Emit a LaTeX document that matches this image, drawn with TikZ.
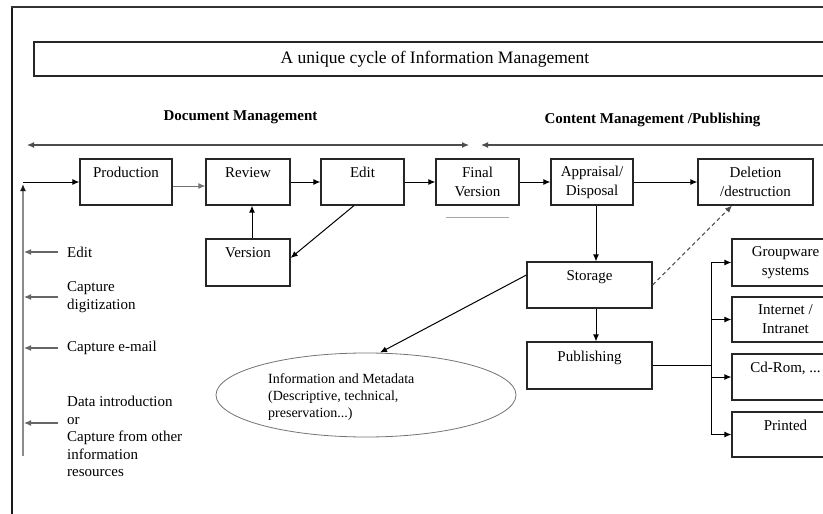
\documentclass[tikz,border=0pt]{standalone}
\usepackage{fontspec}
\setmainfont{Liberation Serif}
\usetikzlibrary{arrows.meta,shapes.geometric}
\begin{document}
\begin{tikzpicture}[x=1pt,y=-1pt,
  box/.style={draw=black!85,line width=1.2pt,minimum height=46pt,inner sep=0pt,align=center,font=\fontsize{15}{19}\selectfont},
  arr/.style={-{Latex[length=7pt,width=6pt]},line width=1pt},
  lbl/.style={font=\fontsize{15}{18}\selectfont,align=left,inner sep=0pt},
  hdr/.style={font=\bfseries\fontsize{15}{18}\selectfont,inner sep=0pt},
  larr/.style={arr,draw=black!60,line width=1.1pt},
]
\clip (0,0) rectangle (823,514);
% frame
\draw[line width=2.5pt,black!90] (12,530) -- (12,6);
\draw[line width=1.3pt,black!80] (11,7) -- (840,7);
% title
\node[draw=black!85,line width=1.2pt,minimum width=796pt,minimum height=34pt,inner sep=0pt] (titlebox) at (432,59) {};
\node[font=\fontsize{17.5}{20}\selectfont,inner sep=0pt] (title) at (435,59) {A unique cycle of Information Management};
% headers
\node[hdr] (dm) at (240.5,117) {Document Management};
\node[hdr] (cm) at (652.5,120) {Content Management /Publishing};
% top arrows
\coordinate (t1) at (27,145);
\coordinate (t2) at (469,145);
\coordinate (t3) at (481,145);
\coordinate (t4) at (840,145);
\draw[line width=1.2pt,black!70,{Latex[length=7pt,width=6pt]}-{Latex[length=7pt,width=6pt]}] (t1) -- (t2);
\draw[arr,line width=1.2pt,black!70] (t4) -- (t3);
% boxes
\node[box,minimum width=92pt] (prod) at (126,182) {Production\\\mbox{}};
\node[box,minimum width=84pt] (review) at (248,182) {Review\\\mbox{}};
\node[box,minimum width=83pt] (edit) at (362.5,182) {Edit\\\mbox{}};
\node[box,minimum width=83pt] (final) at (477.5,182) {Final\\Version};
\node[box,minimum width=82pt] (appr) at (592,182) {Appraisal/\\Disposal};
\node[box,minimum width=115pt] (del) at (755.5,182) {Deletion\\/destruction};
\node[box,minimum width=84pt,minimum height=47pt] (version) at (248,262.5) {Version\\\mbox{}};
\node[box,minimum width=125pt] (storage) at (589.5,285) {Storage\\\mbox{}};
\node[box,minimum width=125pt,minimum height=47pt] (pub) at (589.5,365.5) {Publishing\\\mbox{}};
\node[box,minimum width=107pt,minimum height=47pt] (group) at (785.5,262.5) {Groupware\\systems};
\node[box,minimum width=107pt,minimum height=45pt] (inet) at (785.5,319.5) {Internet /\\Intranet};
\node[box,minimum width=107pt] (cd) at (785.5,377) {Cd-Rom, ...\\\mbox{}};
\node[box,minimum width=107pt,minimum height=45pt] (printed) at (785.5,434.5) {Printed\\\mbox{}};
% final version underline
\coordinate (u1) at (446,217);
\coordinate (u2) at (509,217);
\draw[black!35,line width=0.7pt] (u1) -- (u2);
% left input column
\coordinate (corner) at (23,182);
\coordinate (vtip) at (23,184);
\coordinate (vbot) at (23,456);
\draw[draw=black!45,line width=1.4pt,-{Latex[length=7pt,width=6pt,color=black!90]}] (vbot) -- (vtip);
\draw[arr] (corner) -- (prod.west);
\node[lbl,anchor=west] (l1) at (67,252) {Edit};
\node[lbl,anchor=west] (l2) at (67,297) {Capture\\digitization};
\node[lbl,anchor=west] (l3) at (67,348) {Capture e-mail};
\node[lbl,anchor=north west,font=\fontsize{15}{17.5}\selectfont] (l4) at (67,396) {Data introduction\\or\\Capture from other\\information\\resources};
\coordinate (a4) at (58,423);
\draw[larr] ([xshift=-9pt]l1.west) -- ([xshift=1pt]l1.west -| vbot);
\draw[larr] ([xshift=-9pt]l2.west) -- ([xshift=1pt]l2.west -| vbot);
\draw[larr] ([xshift=-9pt]l3.west) -- ([xshift=1pt]l3.west -| vbot);
\draw[larr] (a4) -- ([xshift=1pt]a4 -| vbot);
% main flow
\draw[arr,draw=black!55] ([yshift=-4pt]prod.east) -- ([yshift=-4pt]review.west);
\draw[arr] (review) -- (edit);
\draw[arr] (edit) -- (final);
\draw[arr] (final) -- (appr);
\draw[arr] (appr) -- (del);
\draw[arr] ([xshift=4pt]version.north) -- ([xshift=4pt]review.south);
\draw[arr] ([xshift=-8.5pt]edit.south) -- ([yshift=4.5pt]version.east);
\draw[arr] ([xshift=4pt]appr.south) -- ([xshift=6.5pt]storage.north);
\draw[arr] ([xshift=6.5pt]storage.south) -- ([xshift=6.5pt]pub.north);
\draw[arr,draw=black!70,dash pattern=on 4pt off 3pt] (storage.east) -- ([xshift=-23.5pt]del.south);
% ellipse
\node[ellipse,draw=black!55,line width=0.8pt,minimum width=300pt,minimum height=84pt,inner sep=0pt] (ell) at (366,395) {};
\node[anchor=north west,align=left,font=\fontsize{14}{17}\selectfont,inner sep=0pt] (elltext) at (268,373) {Information and Metadata\\(Descriptive, technical,\\preservation...)};
\draw[arr] ([yshift=10pt]storage.west) -- ([xshift=14pt]ell.north);
% publishing branches
\coordinate (trunk) at (711,365.5);
\draw[line width=1pt] (pub.east) -- (trunk);
\draw[line width=1pt] (trunk |- group.west) -- (trunk |- printed.west);
\draw[arr] (trunk |- group.west) -- (group.west);
\draw[arr] (trunk |- inet.west) -- (inet.west);
\draw[arr] (trunk |- cd.west) -- (cd.west);
\draw[arr] (trunk |- printed.west) -- (printed.west);
\end{tikzpicture}
\end{document}
